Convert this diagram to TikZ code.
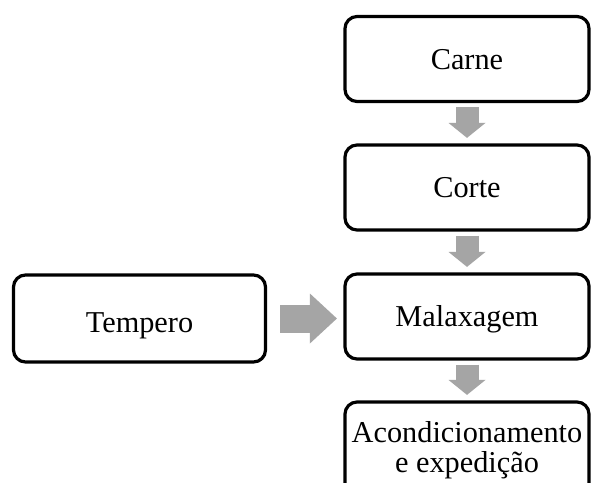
\documentclass[tikz,border=0pt]{standalone}
\usepackage{fontspec}
\setmainfont{Liberation Serif}
\usetikzlibrary{arrows.meta}
\definecolor{flowgray}{HTML}{A5A5A5}
\tikzset{
  stage/.style={draw=black, line width=3.2pt, rounded corners=12pt,
    minimum width=244pt, minimum height=85pt, inner sep=0pt,
    font=\fontsize{30.3}{30}\selectfont, align=center},
  oneline/.style={text height=20pt, text depth=0pt},
  flowdown/.style={draw=flowgray, line width=23pt,
    -{Triangle[length=15pt,width=37pt,line width=0pt]},
    shorten <=4pt, shorten >=5.5pt},
  flowright/.style={draw=flowgray, line width=28pt,
    -{Triangle[length=27pt,width=50pt,line width=0pt]},
    shorten <=13pt, shorten >=6.5pt},
}
\begin{document}
\begin{tikzpicture}[x=1pt,y=-1pt]
  \clip (0,0) rectangle (591,482);
  \fill[white] (0,0) rectangle (591,482);

  % process column
  \node[stage,oneline] (carne) at (467,59) {Carne};
  \node[stage,oneline] (corte) at (467,187.5) {Corte};
  \node[stage,oneline] (malax) at (467,316.5) {Malaxagem};
  \node[stage,minimum height=97pt] (acond) at (467,450.5)
    {Acondicionamento\\e expedição};

  % seasoning input
  \node[stage,minimum width=252pt,minimum height=87pt,
        text height=27pt,text depth=0pt] (tempero) at (139.5,318.5) {Tempero};

  % flow arrows
  \draw[flowdown] (carne) -- (corte);
  \draw[flowdown] (corte) -- (malax);
  \draw[flowdown] (malax) -- (acond);
  \draw[flowright] (tempero.east) -- (tempero.east -| malax.west);
\end{tikzpicture}
\end{document}
